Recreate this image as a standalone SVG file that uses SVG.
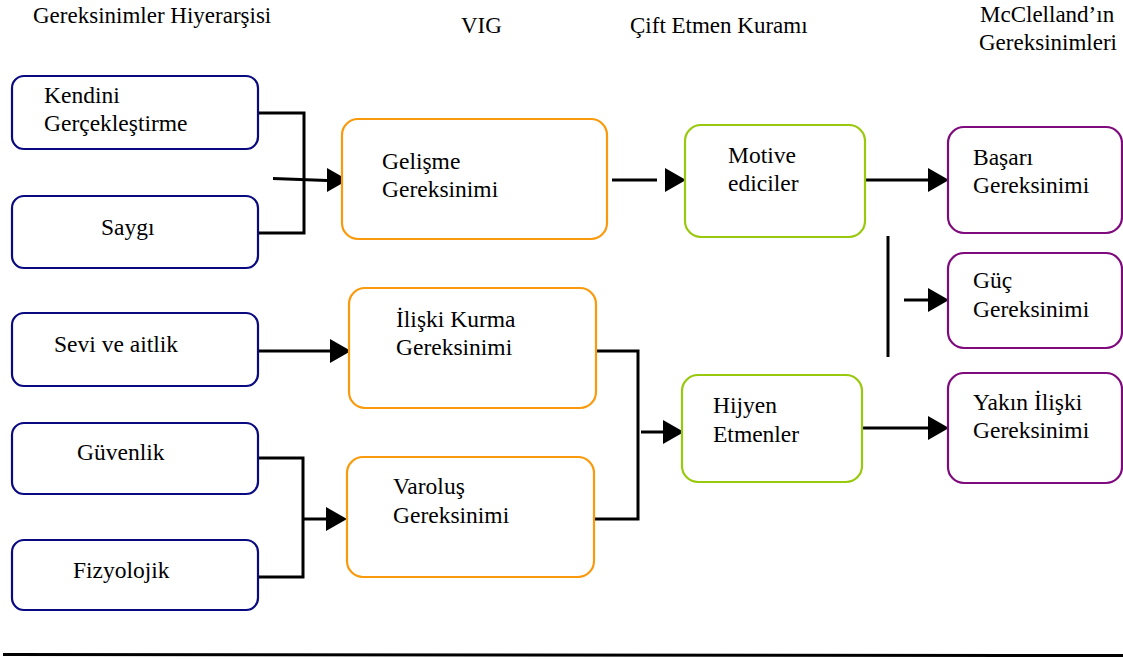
<svg xmlns="http://www.w3.org/2000/svg" xmlns:xlink="http://www.w3.org/1999/xlink" width="1123" height="659" viewBox="0 0 1123 659">
<style>
text{font-family:"Liberation Serif","Times New Roman",Times,Tinos,"Noto Serif","DejaVu Serif",FreeSerif,"Nimbus Roman","Nimbus Roman No9 L",Georgia,serif;font-size:23.5px;fill:#000}
.hd{font-size:23px}
.box{fill:#fff;stroke-width:2.2}
.navy{stroke:#0a0a80}
.orange{stroke:#f89a0c}
.green{stroke:#99c90c}
.purple{stroke:#7e0a7e}
.conn{fill:none;stroke:#000;stroke-width:3}
.ah{fill:#000}
</style>
<defs>
<path id="ah" class="ah" d="M-21,-12 L0,0 L-21,12 Z"/>
</defs>
<rect width="1123" height="659" fill="#fff"/>
<g id="headers">
<text class="hd" x="33" y="23">Gereksinimler Hiyerarşisi</text>
<text class="hd" x="461" y="33">VIG</text>
<text class="hd" x="630" y="33">Çift Etmen Kuramı</text>
<text class="hd" x="980" y="22">McClelland’ın</text>
<text class="hd" x="979" y="50">Gereksinimleri</text>
</g>
<g id="connectors">
<polyline class="conn" points="258,113 304,113 304,233 258,233"/>
<line class="conn" x1="273" y1="178.5" x2="327" y2="180.5"/>
<use xlink:href="#ah" x="348" y="180"/>
<line class="conn" x1="612" y1="180" x2="657" y2="180"/>
<use xlink:href="#ah" x="686" y="180"/>
<line class="conn" x1="865" y1="180" x2="930" y2="180"/>
<use xlink:href="#ah" x="949" y="180"/>
<line class="conn" x1="888" y1="236" x2="888" y2="357"/>
<line class="conn" x1="904" y1="300" x2="930" y2="300"/>
<use xlink:href="#ah" x="949" y="300"/>
<line class="conn" x1="258" y1="351" x2="332" y2="351"/>
<use xlink:href="#ah" x="351" y="351"/>
<polyline class="conn" points="258,458 303,458 303,577 258,577"/>
<line class="conn" x1="303" y1="519" x2="328" y2="519"/>
<use xlink:href="#ah" x="347" y="519"/>
<polyline class="conn" points="596,351 638,351 638,519 594,519"/>
<line class="conn" x1="641" y1="432" x2="665" y2="432"/>
<use xlink:href="#ah" x="684" y="432"/>
<line class="conn" x1="862" y1="428" x2="930" y2="428"/>
<use xlink:href="#ah" x="949" y="428"/>
<line x1="3" y1="654.5" x2="1123" y2="655.5" stroke="#000" stroke-width="3"/>
</g>
<g id="kendini">
<rect class="box navy" x="12" y="76" width="246" height="73" rx="12"/>
<text x="44" y="103">Kendini</text>
<text x="44" y="131">Gerçekleştirme</text>
</g>
<g id="saygi">
<rect class="box navy" x="12" y="196" width="246" height="72" rx="12"/>
<text x="101" y="235">Saygı</text>
</g>
<g id="sevi">
<rect class="box navy" x="12" y="313" width="246" height="73" rx="12"/>
<text x="54" y="352">Sevi ve aitlik</text>
</g>
<g id="guvenlik">
<rect class="box navy" x="12" y="423" width="246" height="71" rx="12"/>
<text x="77" y="460">Güvenlik</text>
</g>
<g id="fizyolojik">
<rect class="box navy" x="12" y="540" width="246" height="70" rx="12"/>
<text x="73" y="578">Fizyolojik</text>
</g>
<g id="gelisme">
<rect class="box orange" x="342" y="119" width="265" height="120" rx="16"/>
<text x="382" y="169">Gelişme</text>
<text x="382" y="197">Gereksinimi</text>
</g>
<g id="iliski">
<rect class="box orange" x="349" y="288" width="247" height="120" rx="16"/>
<text x="396" y="327">İlişki Kurma</text>
<text x="396" y="355">Gereksinimi</text>
</g>
<g id="varolus">
<rect class="box orange" x="347" y="457" width="247" height="120" rx="16"/>
<text x="393" y="494">Varoluş</text>
<text x="393" y="523">Gereksinimi</text>
</g>
<g id="motive">
<rect class="box green" x="685" y="125" width="180" height="112" rx="16"/>
<text x="728" y="163">Motive</text>
<text x="728" y="191">ediciler</text>
</g>
<g id="hijyen">
<rect class="box green" x="682" y="375" width="180" height="107" rx="16"/>
<text x="713" y="413">Hijyen</text>
<text x="713" y="442">Etmenler</text>
</g>
<g id="basari">
<rect class="box purple" x="948" y="127" width="174" height="106" rx="16"/>
<text x="973" y="165">Başarı</text>
<text x="973" y="193">Gereksinimi</text>
</g>
<g id="guc">
<rect class="box purple" x="948" y="253" width="174" height="95" rx="16"/>
<text x="973" y="288">Güç</text>
<text x="973" y="317">Gereksinimi</text>
</g>
<g id="yakin">
<rect class="box purple" x="948" y="373" width="174" height="110" rx="16"/>
<text x="973" y="410">Yakın İlişki</text>
<text x="973" y="438">Gereksinimi</text>
</g>
</svg>
